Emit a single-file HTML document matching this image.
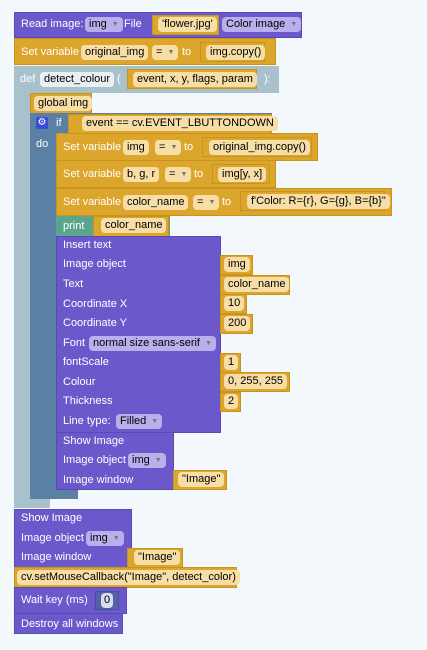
<!DOCTYPE html>
<html><head><meta charset="utf-8"><style>
body{margin:0;width:427px;height:650px;background:#f3f8fd;position:relative;overflow:hidden;font-family:"Liberation Sans",sans-serif;font-size:11px;}
.b{position:absolute;box-sizing:border-box;}
.P{background:#6b59cb;border:1px solid #5a49b5;}
.G{background:#dca52b;border:1px solid #c89420;}
.D{background:#a8c1cc;}
.I{background:#5b80a5;}
.N{background:#5ba58c;}
.t{position:absolute;color:#fff;white-space:nowrap;line-height:14px;}
.f{position:absolute;background:#f7dea6;color:#000;border-radius:4px;padding:0 4px;line-height:15px;height:15px;white-space:nowrap;}
.d{position:absolute;background:#b9afec;color:#000;border-radius:4px;padding:0 4px;line-height:15px;height:15px;white-space:nowrap;}
.d i,.f i{font-style:normal;color:#777;font-size:7px;margin-left:5px;vertical-align:1px}
.w{position:absolute;background:#e9f0f4;color:#000;border-radius:4px;padding:0 4px;line-height:15px;height:15px;white-space:nowrap;}
.inp{position:absolute;background:#dca52b;border:1px solid #c89420;box-sizing:border-box;height:20px;}
</style></head><body>

<!-- def spine -->
<div class="b D" style="left:14px;top:66px;width:265px;height:27px"></div>
<div class="b D" style="left:14px;top:66px;width:16px;height:442px"></div>
<div class="b D" style="left:14px;top:497px;width:36px;height:11px"></div>
<div class="t" style="left:20px;top:72px">def</div>
<div class="w" style="left:40px;top:72px">detect_colour</div>
<div class="t" style="left:117px;top:72px">(</div>
<div class="inp" style="left:127px;top:69px;width:130px"></div>
<div class="f" style="left:133px;top:72px">event, x, y, flags, param</div>
<div class="t" style="left:264px;top:72px">):</div>

<!-- Read image -->
<div class="b P" style="left:14px;top:12px;width:288px;height:26px"></div>
<div class="t" style="left:21px;top:17px">Read image:</div>
<div class="d" style="left:85px;top:17px">img<i>▼</i></div>
<div class="t" style="left:124px;top:17px">File</div>
<div class="inp" style="left:152px;top:15px;width:67px"></div>
<div class="f" style="left:158px;top:17px">'flower.jpg'</div>
<div class="d" style="left:222px;top:17px">Color image<i>▼</i></div>

<!-- set original_img -->
<div class="b G" style="left:14px;top:38px;width:262px;height:27px"></div>
<div class="t" style="left:21px;top:45px">Set variable</div>
<div class="f" style="left:81px;top:45px">original_img</div>
<div class="f" style="left:152px;top:45px">=<i>▼</i></div>
<div class="t" style="left:182px;top:45px">to</div>
<div class="inp" style="left:200px;top:42px;width:65px"></div>
<div class="f" style="left:206px;top:45px">img.copy()</div>

<!-- global img -->
<div class="b G" style="left:30px;top:93px;width:62px;height:21px"></div>
<div class="f" style="left:34px;top:96px">global img</div>

<!-- if -->
<div class="b I" style="left:30px;top:113px;width:242px;height:22px"></div>
<div class="b I" style="left:30px;top:113px;width:27px;height:386px"></div>
<div class="b I" style="left:30px;top:488px;width:48px;height:11px"></div>
<div style="position:absolute;left:36px;top:117px;width:12px;height:12px;background:#3b4bd8;border-radius:2px;color:#fff;font-size:10px;line-height:12px;text-align:center">⚙</div>
<div class="t" style="left:56px;top:116px">if</div>
<div class="inp" style="left:68px;top:114px;width:204px"></div>
<div class="f" style="left:82px;top:116px">event == cv.EVENT_LBUTTONDOWN</div>
<div class="t" style="left:36px;top:137px">do</div>

<!-- set img -->
<div class="b G" style="left:56px;top:133px;width:262px;height:28px"></div>
<div class="t" style="left:63px;top:140px">Set variable</div>
<div class="f" style="left:123px;top:140px">img</div>
<div class="f" style="left:155px;top:140px">=<i>▼</i></div>
<div class="t" style="left:184px;top:140px">to</div>
<div class="inp" style="left:202px;top:137px;width:110px"></div>
<div class="f" style="left:209px;top:140px">original_img.copy()</div>

<!-- b,g,r -->
<div class="b G" style="left:56px;top:160px;width:220px;height:28px"></div>
<div class="t" style="left:63px;top:167px">Set variable</div>
<div class="f" style="left:123px;top:167px">b, g, r</div>
<div class="f" style="left:165px;top:167px">=<i>▼</i></div>
<div class="t" style="left:194px;top:167px">to</div>
<div class="inp" style="left:212px;top:164px;width:58px"></div>
<div class="f" style="left:218px;top:167px">img[y, x]</div>

<!-- color_name -->
<div class="b G" style="left:56px;top:188px;width:336px;height:28px"></div>
<div class="t" style="left:63px;top:195px">Set variable</div>
<div class="f" style="left:123px;top:195px">color_name</div>
<div class="f" style="left:193px;top:195px">=<i>▼</i></div>
<div class="t" style="left:222px;top:195px">to</div>
<div class="inp" style="left:240px;top:191px;width:145px"></div>
<div class="f" style="left:247px;top:194px">f'Color: R={r}, G={g}, B={b}"</div>

<!-- print -->
<div class="b N" style="left:56px;top:216px;width:114px;height:21px"></div>
<div class="t" style="left:63px;top:219px">print</div>
<div class="inp" style="left:93px;top:216px;width:76px;height:21px"></div>
<div class="f" style="left:101px;top:218px">color_name</div>

<!-- Insert text -->
<div class="b P" style="left:56px;top:236px;width:165px;height:197px"></div>
<div class="t" style="left:63px;top:238px">Insert text</div>
<div class="t" style="left:63px;top:257px">Image object</div>
<div class="t" style="left:63px;top:277px">Text</div>
<div class="t" style="left:63px;top:297px">Coordinate X</div>
<div class="t" style="left:63px;top:316px">Coordinate Y</div>
<div class="t" style="left:63px;top:336px">Font</div>
<div class="d" style="left:89px;top:336px">normal size sans-serif<i>▼</i></div>
<div class="t" style="left:63px;top:355px">fontScale</div>
<div class="t" style="left:63px;top:375px">Colour</div>
<div class="t" style="left:63px;top:394px">Thickness</div>
<div class="t" style="left:63px;top:414px">Line type:</div>
<div class="d" style="left:116px;top:414px">Filled<i>▼</i></div>

<div class="inp" style="left:220px;top:255px;width:33px"></div><div class="f" style="left:224px;top:257px">img</div>
<div class="inp" style="left:220px;top:275px;width:70px"></div><div class="f" style="left:224px;top:277px">color_name</div>
<div class="inp" style="left:220px;top:294px;width:27px"></div><div class="f" style="left:224px;top:296px">10</div>
<div class="inp" style="left:220px;top:314px;width:33px"></div><div class="f" style="left:224px;top:316px">200</div>
<div class="inp" style="left:220px;top:353px;width:21px"></div><div class="f" style="left:224px;top:355px">1</div>
<div class="inp" style="left:220px;top:372px;width:70px"></div><div class="f" style="left:224px;top:374px">0, 255, 255</div>
<div class="inp" style="left:220px;top:392px;width:21px"></div><div class="f" style="left:224px;top:394px">2</div>

<!-- inner show image -->
<div class="b P" style="left:56px;top:432px;width:118px;height:58px"></div>
<div class="t" style="left:63px;top:434px">Show Image</div>
<div class="t" style="left:63px;top:453px">Image object</div>
<div class="d" style="left:128px;top:453px">img<i>▼</i></div>
<div class="t" style="left:63px;top:473px">Image window</div>
<div class="inp" style="left:173px;top:470px;width:54px"></div><div class="f" style="left:178px;top:472px">"Image"</div>

<!-- outer show image -->
<div class="b P" style="left:14px;top:509px;width:118px;height:59px"></div>
<div class="t" style="left:21px;top:511px">Show Image</div>
<div class="t" style="left:21px;top:531px">Image object</div>
<div class="d" style="left:86px;top:531px">img<i>▼</i></div>
<div class="t" style="left:21px;top:550px">Image window</div>
<div class="inp" style="left:127px;top:548px;width:56px"></div><div class="f" style="left:134px;top:550px">"Image"</div>

<div class="b G" style="left:14px;top:567px;width:223px;height:21px"></div>
<div class="f" style="left:17px;top:570px">cv.setMouseCallback("Image", detect_color)</div>

<div class="b P" style="left:14px;top:587px;width:113px;height:27px"></div>
<div class="t" style="left:21px;top:593px">Wait key (ms)</div>
<div style="position:absolute;left:95px;top:591px;width:24px;height:19px;background:#5361a8;border:1px solid #46509a;box-sizing:border-box"></div>
<div class="w" style="left:101px;top:593px;padding:0 3px;background:#d8dcef">0</div>

<div class="b P" style="left:14px;top:613px;width:109px;height:21px"></div>
<div class="t" style="left:21px;top:617px">Destroy all windows</div>
</body></html>
